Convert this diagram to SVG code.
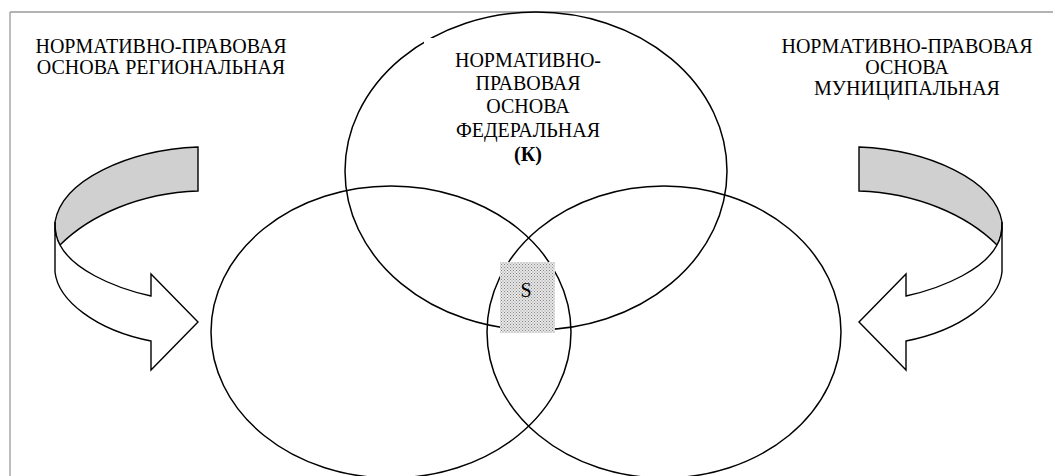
<svg xmlns="http://www.w3.org/2000/svg" width="1053" height="476" viewBox="0 0 1053 476">
<style>
text{font-family:'Liberation Serif','DejaVu Serif',serif;font-size:20px;fill:#000}
.e{fill:none;stroke:#000;stroke-width:1.5}
.a{stroke:#000;stroke-width:1.4;stroke-linejoin:miter}
</style>
<defs>
<pattern id="dots" width="3" height="3" patternUnits="userSpaceOnUse">
<rect width="3" height="3" fill="#e6e6e6"/>
<rect x="0" y="0" width="1" height="1" fill="#888"/>
<rect x="1.5" y="1.5" width="1" height="1" fill="#999"/>
</pattern>
<g id="arrow">
<path class="a" fill="#d0d0d0" d="M198,147 C128,150 62,180 55,222 L55,230 C56,237 58,242 60,245 C90,215 140,193 198,191 Z"/>
<path class="a" fill="#fff" d="M55,222 L55,272 C58,300 95,330 151,341 L151,370 L198,322 L151,274 L151,296 C110,287 72,268 60,245 C57,240 55,232 55,222 Z"/>
</g>
</defs>
<rect width="1053" height="476" fill="#fff"/>
<g id="frame" fill="none" stroke="#9a9a9a" stroke-width="1.3">
<line x1="10" y1="12" x2="1053" y2="12"/>
<line x1="10" y1="12" x2="10" y2="476"/>
</g>
<g id="federal">
<ellipse class="e" cx="536" cy="171" rx="191" ry="159"/>
<rect x="424" y="38" width="211" height="132" fill="#fff"/>
<text font-family="Liberation Serif, serif" text-anchor="middle"><tspan x="528" y="67">НОРМАТИВНО-</tspan><tspan x="528" y="90">ПРАВОВАЯ</tspan><tspan x="528" y="113">ОСНОВА</tspan><tspan x="528" y="137">ФЕДЕРАЛЬНАЯ</tspan><tspan x="528" y="161" font-weight="bold">(К)</tspan></text>
</g>
<g id="regional">
<ellipse class="e" cx="391" cy="332" rx="180" ry="146"/>
<text font-family="Liberation Serif, serif" text-anchor="middle"><tspan x="161" y="53">НОРМАТИВНО-ПРАВОВАЯ</tspan><tspan x="161" y="74">ОСНОВА РЕГИОНАЛЬНАЯ</tspan></text>
</g>
<g id="municipal">
<ellipse class="e" cx="664" cy="332" rx="177" ry="146"/>
<text font-family="Liberation Serif, serif" text-anchor="middle"><tspan x="907" y="53">НОРМАТИВНО-ПРАВОВАЯ</tspan><tspan x="907" y="74">ОСНОВА</tspan><tspan x="907" y="95">МУНИЦИПАЛЬНАЯ</tspan></text>
</g>
<g id="intersection">
<rect x="500" y="262" width="55" height="71" fill="url(#dots)"/>
<text font-family="Liberation Serif, serif" x="526" y="297" text-anchor="middle" font-size="24">S</text>
</g>
<g id="connectors">
<use href="#arrow"/>
<use href="#arrow" transform="translate(1057,0) scale(-1,1)"/>
</g>
</svg>
